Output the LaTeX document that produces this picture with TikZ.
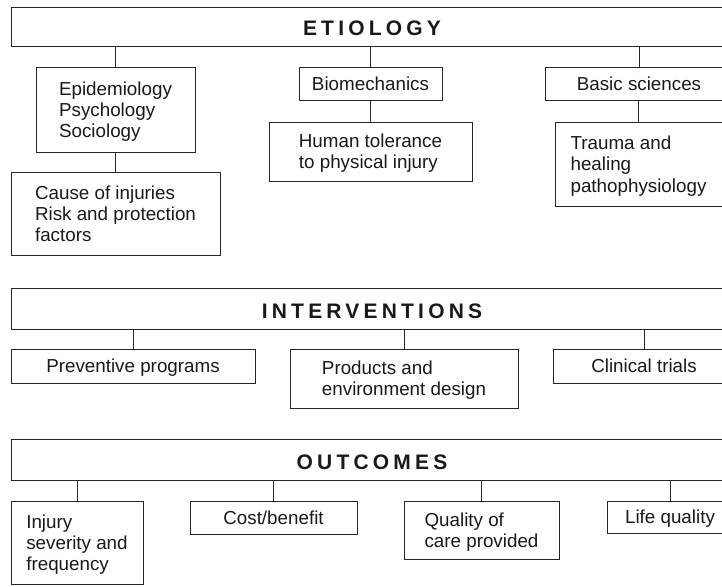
\documentclass[tikz,border=0pt]{standalone}
\usepackage{fontspec}
\setmainfont{Liberation Sans}
\newfontfamily\hdrfont[LetterSpace=20]{Liberation Sans}
\begin{document}
\begin{tikzpicture}[x=1pt,y=-1pt,
  bx/.style={draw=black!85, line width=0.9pt, inner sep=0pt, align=left,
    text depth=0pt, font=\fontsize{18.8}{21.2}\selectfont, text=black!90},
  hdr/.style={draw=black!85, line width=0.9pt, inner sep=0pt,
    text height=19pt, text depth=0pt, text=black!90,
    font=\hdrfont\bfseries\fontsize{21}{24}\selectfont, minimum width=722pt},
  conn/.style={draw=black!85, line width=0.9pt}]
\useasboundingbox (0,0) rectangle (722,586);
\clip (0,0) rectangle (722,586);

% headers
\node[hdr, minimum height=39pt] (etio) at (372,26.5) {ETIOLOGY};
\node[hdr, minimum height=41pt] (inter) at (372,308.5) {INTERVENTIONS};
\node[hdr, minimum height=41pt] (outc) at (372,459.5) {OUTCOMES};

% etiology
\node[bx, minimum width=159pt, minimum height=85pt] (epi) at (115.5,109.5) {Epidemiology\\Psychology\\Sociology};
\node[bx, minimum width=209pt, minimum height=83pt] (cause) at (115.5,213.5) {Cause of injuries\\Risk and protection\\factors};
\node[bx, minimum width=143pt, minimum height=33pt] (bio) at (370.5,83.5) {Biomechanics};
\node[bx, minimum width=203pt, minimum height=59pt] (human) at (370.5,151.5) {Human tolerance\\to physical injury};
\node[bx, minimum width=188pt, minimum height=33pt] (basic) at (639,83.5) {Basic sciences};
\node[bx, minimum width=167pt, minimum height=84pt] (trauma) at (638.5,164) {Trauma and\\healing\\pathophysiology};

% interventions
\node[bx, minimum width=244pt, minimum height=34pt] (prev) at (133,366) {Preventive programs};
\node[bx, minimum width=228pt, minimum height=59pt] (prod) at (404,378.5) {Products and\\environment design};
\node[bx, minimum width=182pt, minimum height=34pt] (clin) at (644,366) {Clinical trials};

% outcomes
\node[bx, minimum width=132pt, minimum height=83pt] (injury) at (77,542.5) {Injury\\severity and\\frequency};
\node[bx, minimum width=167pt, minimum height=33pt] (cost) at (273.5,517.5) {Cost/benefit};
\node[bx, minimum width=155pt, minimum height=58pt] (qual) at (481.5,530) {Quality of\\care provided};
\node[bx, minimum width=126pt, minimum height=32pt] (life) at (670,517) {Life quality};

% connectors
\draw[conn] (epi.north) -- (epi.north |- etio.south);
\draw[conn] (bio.north) -- (bio.north |- etio.south);
\draw[conn] (basic.north) -- (basic.north |- etio.south);
\draw[conn] (cause.north) -- (epi.south);
\draw[conn] (human.north) -- (bio.south);
\draw[conn] (trauma.north) -- (trauma.north |- basic.south);

\draw[conn] (prev.north) -- (prev.north |- inter.south);
\draw[conn] (prod.north) -- (prod.north |- inter.south);
\draw[conn] (clin.north) -- (clin.north |- inter.south);

\draw[conn] (injury.north) -- (injury.north |- outc.south);
\draw[conn] (cost.north) -- (cost.north |- outc.south);
\draw[conn] (qual.north) -- (qual.north |- outc.south);
\draw[conn] (life.north) -- (life.north |- outc.south);
\end{tikzpicture}
\end{document}
